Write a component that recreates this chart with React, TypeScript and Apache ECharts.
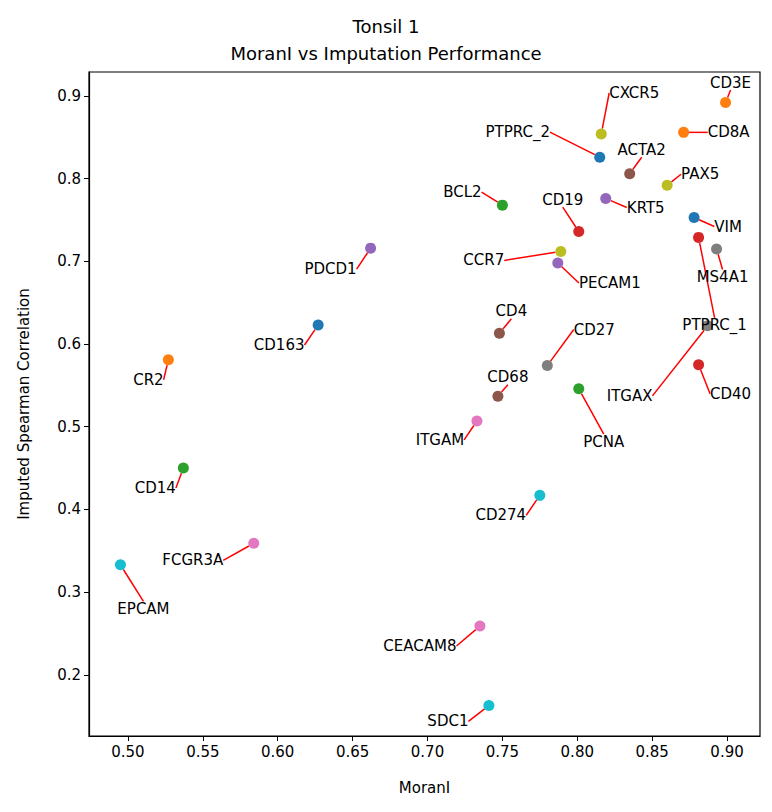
import React, { useEffect, useRef } from "react";
import * as echarts from "echarts";

const genes = ["CD3E", "CD8A", "CXCR5", "PTPRC_2", "ACTA2", "PAX5", "KRT5", "BCL2", "CD19", "VIM", "PTPRC_1", "MS4A1", "ITGAX", "PDCD1", "CCR7", "PECAM1", "CD163", "CD4", "CR2", "CD27", "CD40", "PCNA", "CD68", "ITGAM", "CD14", "CD274", "FCGR3A", "EPCAM", "CEACAM8", "SDC1"];
const moranI = [0.899, 0.871, 0.816, 0.815, 0.835, 0.860, 0.819, 0.750, 0.801, 0.878, 0.881, 0.893, 0.887, 0.662, 0.789, 0.787, 0.627, 0.748, 0.527, 0.780, 0.881, 0.801, 0.747, 0.733, 0.537, 0.775, 0.584, 0.495, 0.735, 0.741];
const spearman = [0.892, 0.856, 0.854, 0.826, 0.806, 0.792, 0.776, 0.768, 0.736, 0.753, 0.729, 0.715, 0.622, 0.716, 0.712, 0.698, 0.623, 0.613, 0.581, 0.574, 0.575, 0.546, 0.537, 0.507, 0.450, 0.417, 0.359, 0.333, 0.259, 0.163];
const colors = ["#ff7f0e", "#ff7f0e", "#bcbd22", "#1f77b4", "#8c564b", "#bcbd22", "#9467bd", "#2ca02c", "#d62728", "#1f77b4", "#d62728", "#7f7f7f", "#7f7f7f", "#9467bd", "#bcbd22", "#9467bd", "#1f77b4", "#8c564b", "#ff7f0e", "#7f7f7f", "#d62728", "#2ca02c", "#8c564b", "#e377c2", "#2ca02c", "#17becf", "#e377c2", "#17becf", "#e377c2", "#17becf"];
// label offsets in pixels (dx, dy) from each point
const labelDx = [5, 45, 33, -82, 12, 33, 40, -40, -16, 34, 16, 6, -78, -40, -77, 52, -39, 12, -20, 47, 32, 25, 10, -37, -28, -39, -61, 23, -60, -41];
const labelDy = [-20, 0, -41, -25, -24, -11, 9, -13, -32, 9, 88, 28, 70, 21, 9, 20, 20, -22, 20, -36, 29, 53, -19, 19, 20, 20, 17, 44, 20, 16];
const xTicks = [0.5, 0.55, 0.6, 0.65, 0.7, 0.75, 0.8, 0.85, 0.9];
const yTicks = [0.2, 0.3, 0.4, 0.5, 0.6, 0.7, 0.8, 0.9];

const App: React.FC = () => {
  const ref = useRef<HTMLDivElement>(null);

  useEffect(() => {
    if (!ref.current) return;
    const chart = echarts.init(ref.current, undefined, { renderer: "svg" });
    const font = "DejaVu Sans";
    const axisCommon = {
      axisLine: { show: true, onZero: false, lineStyle: { color: "#000", width: 1.2 } },
      axisTick: { show: true, length: 5, lineStyle: { color: "#000" } },
      splitLine: { show: false },
      nameLocation: "middle" as const,
      nameTextStyle: { color: "#000", fontSize: 15, fontFamily: font },
    };
    chart.setOption({
      animation: false,
      title: {
        text: "Tonsil 1\nMoranI vs Imputation Performance",
        left: "center",
        top: 0,
        textStyle: { fontSize: 18, fontWeight: "normal", color: "#000", fontFamily: font, lineHeight: 27 },
      },
      grid: { left: 80, right: 4, top: 64, bottom: 68, show: true, borderColor: "#000", borderWidth: 1.2, backgroundColor: "transparent" },
      xAxis: {
        type: "value",
        min: 0.474,
        max: 0.922,
        name: "MoranI",
        nameGap: 44,
        ...axisCommon,
        axisTick: { ...axisCommon.axisTick, customValues: xTicks },
        axisLabel: { color: "#000", fontSize: 15, fontFamily: font, customValues: xTicks, formatter: (v: number) => v.toFixed(2) },
      },
      yAxis: {
        type: "value",
        min: 0.126,
        max: 0.929,
        name: "Imputed Spearman Correlation",
        nameGap: 58,
        ...axisCommon,
        axisTick: { ...axisCommon.axisTick, customValues: yTicks },
        axisLabel: { color: "#000", fontSize: 15, fontFamily: font, customValues: yTicks, formatter: (v: number) => v.toFixed(1) },
      },
      series: [
        {
          type: "scatter",
          symbolSize: 11,
          data: genes.map((g, i) => ({
            name: g,
            value: [moranI[i], spearman[i]],
            itemStyle: { color: colors[i], opacity: 1 },
          })),
          label: {
            show: true,
            position: "inside",
            formatter: "{b}",
            color: "#000",
            textBorderWidth: 0,
            fontSize: 15,
            fontFamily: font,
          },
          labelLayout: (p: any) => ({ dx: labelDx[p.dataIndex], dy: labelDy[p.dataIndex] }),
          labelLine: { show: true, lineStyle: { color: "#ff0000", width: 1.5 } },
        },
      ],
    });
    return () => chart.dispose();
  }, []);

  return <div ref={ref} style={{ width: 756, height: 796 }} />;
};

export default App;
